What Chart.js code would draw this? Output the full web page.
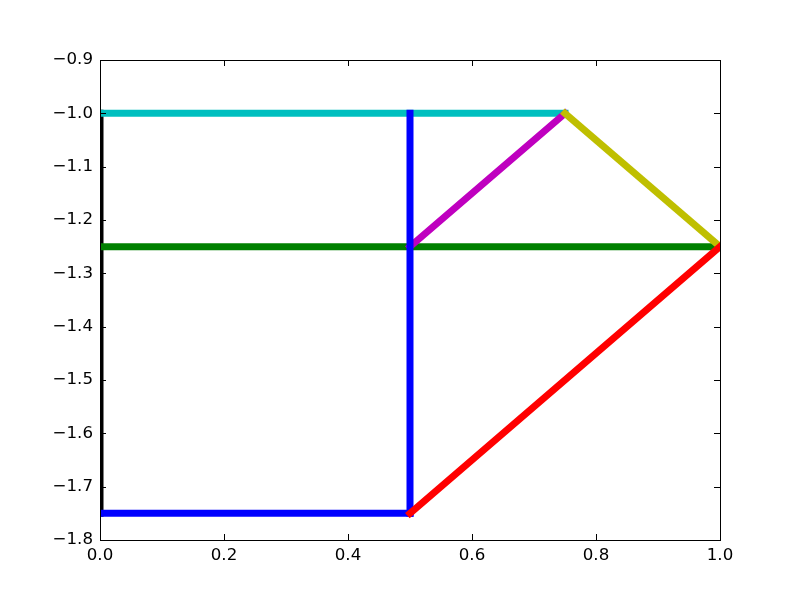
<!DOCTYPE html>
<html>
<head>
<meta charset="utf-8">
<script src="https://cdn.jsdelivr.net/npm/chart.js@4/dist/chart.umd.min.js"></script>
<style>
  html, body { margin: 0; padding: 0; background: #fff; }
  #wrap { width: 800px; height: 600px; }
</style>
</head>
<body>
<div id="wrap"><canvas id="chart" width="800" height="600"></canvas></div>
<script>
// segment endpoints, in drawing order (later ones on top)
var segX = [[0, 0], [0, 0.75], [0, 1.0], [0.5, 0.75], [0.5, 0.5], [0, 0.5], [0.75, 1.0], [0.5, 1.0]];
var segY = [[-1.75, -1.0], [-1.0, -1.0], [-1.25, -1.25], [-1.25, -1.0], [-1.0, -1.75], [-1.75, -1.75], [-1.0, -1.25], [-1.75, -1.25]];
var segColors = ['#000000', '#00bfbf', '#008000', '#bf00bf', '#0000ff', '#0000ff', '#bfbf00', '#ff0000'];

var xTicks = [0.0, 0.2, 0.4, 0.6, 0.8, 1.0];
var yTicks = [-1.8, -1.7, -1.6, -1.5, -1.4, -1.3, -1.2, -1.1, -1.0, -0.9];

function fmt(v) {
    var s = Math.abs(v).toFixed(1);
    return v < 0 ? '\u2212' + s : s;
}

var datasets = segX.map(function(xs, i) {
    return {
        data: xs.map(function(x, j) { return {x: x, y: segY[i][j]}; }),
        borderColor: segColors[i],
        backgroundColor: segColors[i],
        borderWidth: 7,
        borderCapStyle: 'square',
        showLine: true,
        pointRadius: 0,
        clip: 0,
        order: segX.length - i
    };
});

// matplotlib-like frame with inward ticks
var frame = {
    id: 'frame',
    afterDatasetsDraw: function(chart) {
        var ctx = chart.ctx, a = chart.chartArea;
        var sx = chart.scales.x, sy = chart.scales.y;
        var len = 6;
        ctx.save();
        ctx.strokeStyle = '#000';
        ctx.lineWidth = 1;
        ctx.beginPath();
        xTicks.forEach(function(t) {
            var px = Math.round(sx.getPixelForValue(t)) + 0.5;
            ctx.moveTo(px, a.bottom); ctx.lineTo(px, a.bottom - len);
            ctx.moveTo(px, a.top); ctx.lineTo(px, a.top + len);
        });
        yTicks.forEach(function(t) {
            var py = Math.round(sy.getPixelForValue(t)) + 0.5;
            ctx.moveTo(a.left, py); ctx.lineTo(a.left + len, py);
            ctx.moveTo(a.right, py); ctx.lineTo(a.right - len, py);
        });
        ctx.stroke();
        ctx.strokeRect(a.left + 0.5, a.top + 0.5, a.right - a.left, a.bottom - a.top);
        ctx.restore();
    }
};

new Chart(document.getElementById('chart'), {
    type: 'scatter',
    data: { datasets: datasets },
    options: {
        responsive: false,
        animation: false,
        events: [],
        layout: { padding: { top: 60, right: 80, left: 0, bottom: 0 } },
        plugins: { legend: { display: false }, tooltip: { enabled: false } },
        scales: {
            x: {
                type: 'linear', min: 0, max: 1,
                afterBuildTicks: function(s) { s.ticks = xTicks.map(function(v) { return {value: v}; }); },
                afterFit: function(s) { s.height = 60; },
                grid: { display: false, drawTicks: false },
                border: { display: false },
                ticks: {
                    color: '#000', padding: 6, maxRotation: 0,
                    font: { family: 'DejaVu Sans', size: 16.67 },
                    callback: function(v) { return fmt(v); }
                }
            },
            y: {
                type: 'linear', min: -1.8, max: -0.9,
                afterBuildTicks: function(s) { s.ticks = yTicks.map(function(v) { return {value: v}; }); },
                afterFit: function(s) { s.width = 100; },
                grid: { display: false, drawTicks: false },
                border: { display: false },
                ticks: {
                    color: '#000', padding: 7,
                    font: { family: 'DejaVu Sans', size: 16.67 },
                    callback: function(v) { return fmt(v); }
                }
            }
        }
    },
    plugins: [frame]
});
</script>
</body>
</html>
